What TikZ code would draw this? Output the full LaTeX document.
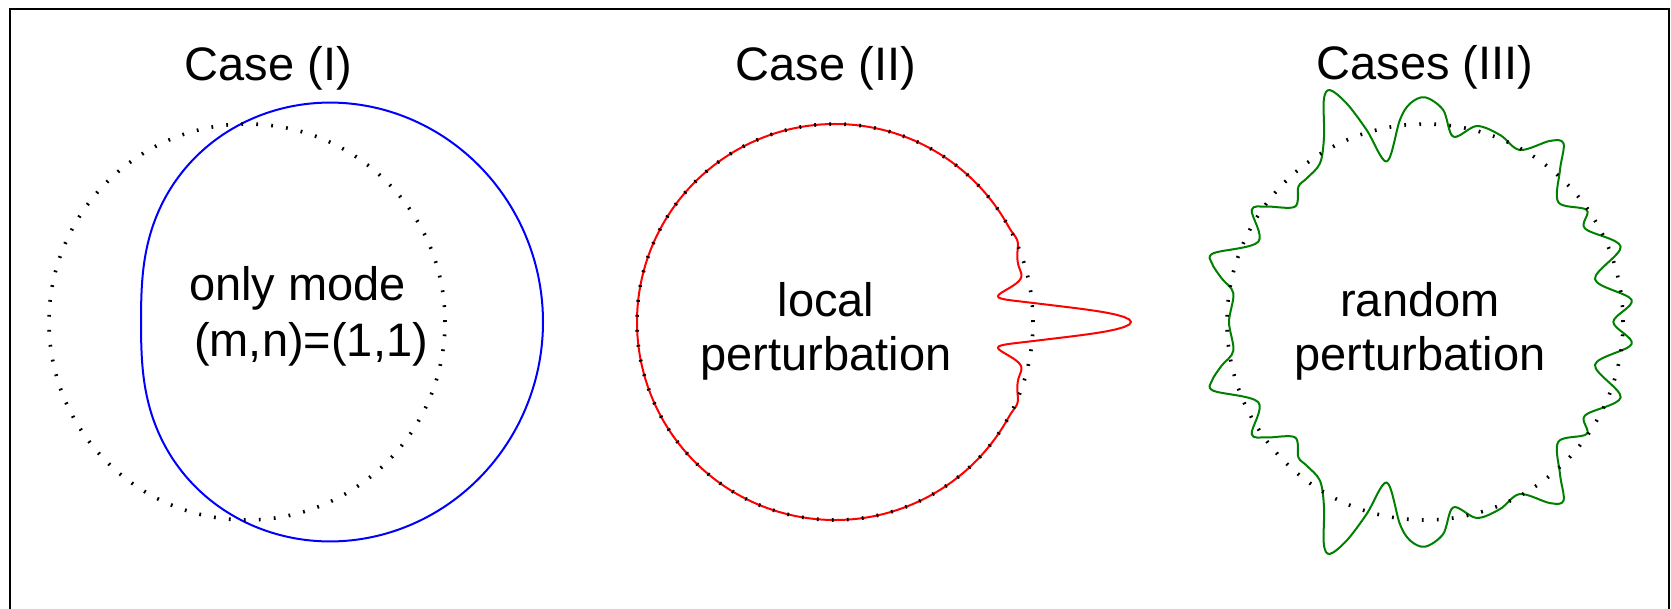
\documentclass[tikz,border=0pt]{standalone}
\usepackage{fontspec}
\setmainfont{Liberation Sans}
\definecolor{mgreen}{RGB}{0,128,0}
\begin{document}
\begin{tikzpicture}[x=1pt,y=-1pt,
  frameline/.style={line width=2.5pt},
  dotring/.style={line width=3.6pt, dash pattern=on 1.8pt off 13.2pt},
  curve/.style={line width=2pt, line join=round},
  txt/.style={inner sep=0pt, anchor=base, font=\fontsize{47}{56}\selectfont},
  declare function={
    gs(\u)=exp(-min(\u*\u,9));
    rloc(\t)=198+98*gs(\t/3.7)-33*gs((abs(\t)-8.8)/3)-6*gs((abs(\t)-17)/5)+2.5*gs((abs(\t)-24)/2.5);
  }]
\useasboundingbox (0,0) rectangle (1671,608);

% centres of the three unperturbed circles
\coordinate (c1) at (247,322);
\coordinate (c2) at (835,322);
\coordinate (c3) at (1425,322);

% open frame
\draw[frameline] (10,620) -- (10,9) -- (1669,9) -- (1669,620);

% titles
\node[txt] (t1) at (268.5,80) {Case (I)};
\node[txt] (t2) at (826,80) {Case (II)};
\node[txt] (t3) at (1425,79) {Cases (III)};

% Case (I): shifted circle, mode (1,1)
\draw[curve, blue, shift={(c1)}] plot[domain=0:360, samples=241, smooth] (\x:{201+95*cos(\x)}) -- cycle;

% Case (II): localised bump
\draw[curve, red, shift={(c2)}] plot[domain=-180:180, samples=721] (\x:{rloc(\x)}) -- cycle;

% Case (III): random perturbation (symmetric about the horizontal axis)
\draw[curve, mgreen, shift={(c3)}] plot[smooth cycle, tension=0.55] coordinates {
  (0:188.3) (6.1:207.8) (14.1:175.3) (21.1:209.7) (30.3:185.3) (34.7:196.7)
  (41.9:179.2) (48.4:203.3) (52.2:226) (55.4:220) (61.1:196.5) (68.1:201.5)
  (75.2:202.7) (81.3:187.5) (85.1:212.8) (90:224.7) (93.9:219) (97.1:203.5)
  (103.4:165) (106.9:200.7) (109.7:232) (112.3:250.7) (114.5:244) (118.6:211)
  (123.5:190.3) (129.5:186.1) (133.1:185.3) (138.4:173.8) (143.9:195.9)
  (147.1:206.4) (154.3:185) (162:222.5) (164.6:221) (167.9:208) (171.5:193.8)
  (180:196)
  (-171.5:193.8) (-167.9:208) (-164.6:221) (-162:222.5) (-154.3:185)
  (-147.1:206.4) (-143.9:195.9) (-138.4:173.8) (-133.1:185.3) (-129.5:186.1)
  (-123.5:190.3) (-118.6:211) (-114.5:244) (-112.3:250.7) (-109.7:232)
  (-106.9:200.7) (-103.4:165) (-97.1:203.5) (-93.9:219) (-90:224.7)
  (-85.1:212.8) (-81.3:187.5) (-75.2:202.7) (-68.1:201.5) (-61.1:196.5)
  (-55.4:220) (-52.2:226) (-48.4:203.3) (-41.9:179.2) (-34.7:196.7)
  (-30.3:185.3) (-21.1:209.7) (-14.1:175.3) (-6.1:207.8)
};

% dotted reference circles
\draw[dotring] (c1) circle[radius=198pt];
\draw[dotring] (c2) circle[radius=198pt];
\draw[dotring] (c3) circle[radius=198pt];

% labels inside the rings
\node[txt] (m1) at (297.5,300) {only mode};
\node[txt] (m2) at (311,356) {(m,n)=(1,1)};
\node[txt] (l1) at (826,316) {local};
\node[txt] (l2) at (826,370) {perturbation};
\node[txt] (r1) at (1420,316) {random};
\node[txt] (r2) at (1420,370) {perturbation};
\end{tikzpicture}
\end{document}
